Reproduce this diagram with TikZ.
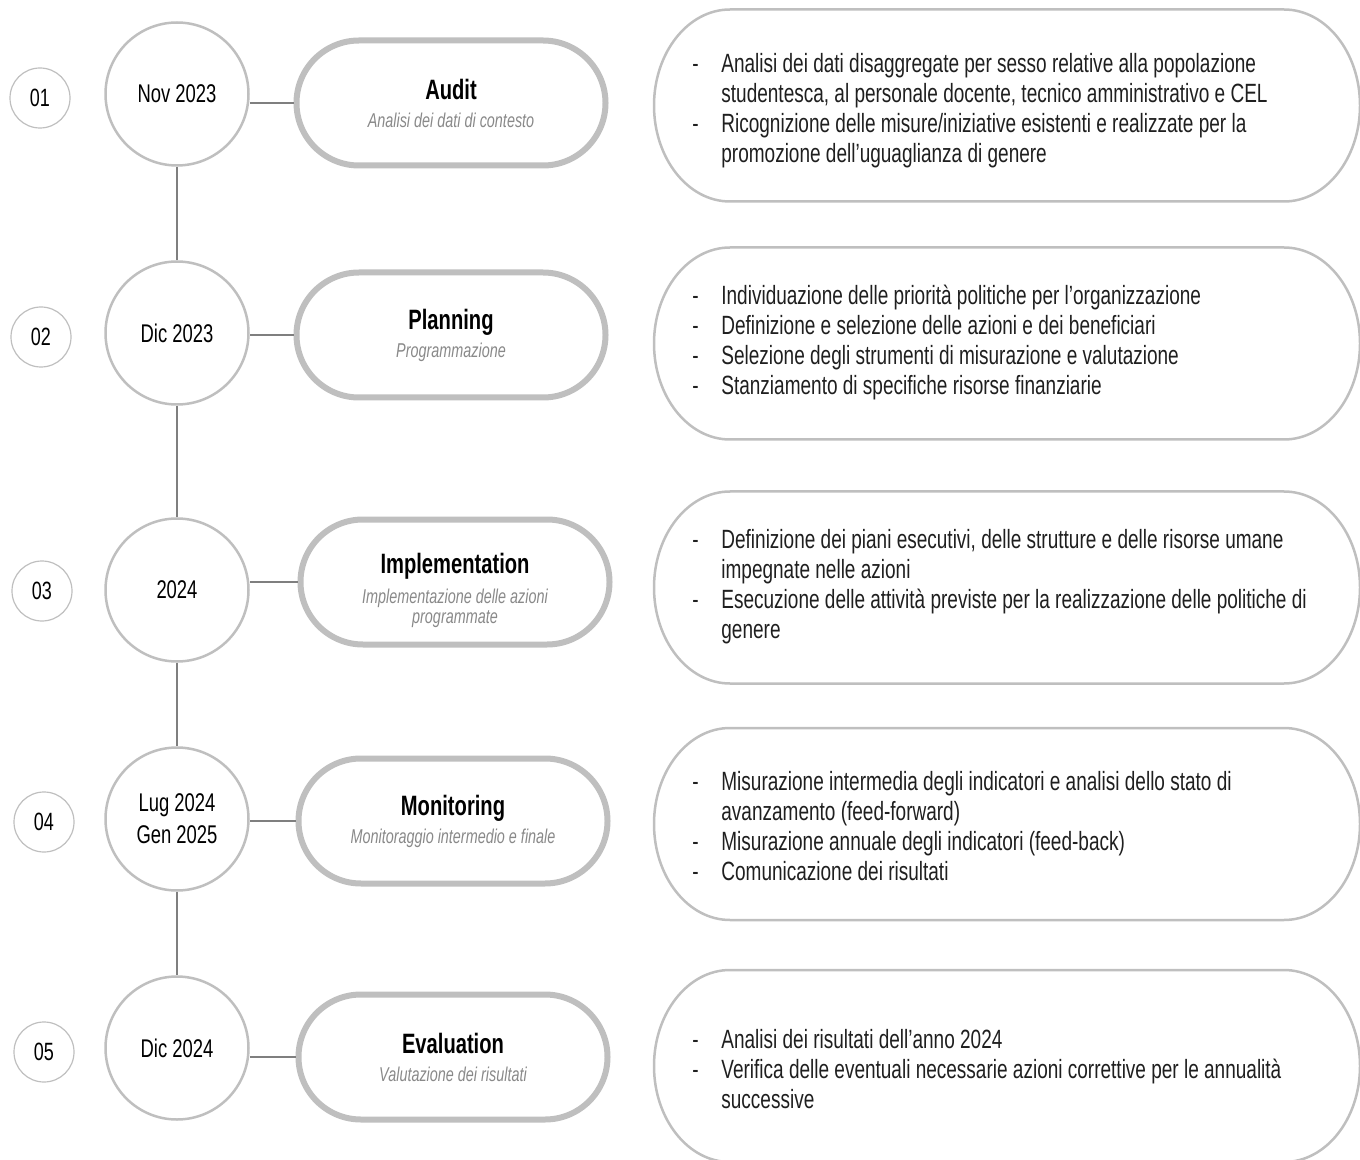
\documentclass[tikz,border=0pt]{standalone}
\usepackage{fontspec}
\setmainfont{Liberation Sans}[FakeStretch=0.72]
\usetikzlibrary{shapes.misc}

\definecolor{ringgray}{HTML}{BFBFBF}
\definecolor{linegray}{HTML}{7F7F7F}
\definecolor{subgray}{HTML}{898989}
\definecolor{bodytext}{HTML}{1F1F1F}

\newcommand{\itemdash}{\makebox[14.5pt][l]{-}}
\newcommand{\itemgap}{\hspace*{14.5pt}}
\newcommand{\phasetitle}[1]{{\fontsize{14}{16}\selectfont\bfseries #1}}

\begin{document}
\begin{tikzpicture}[x=0.5pt,y=-0.5pt,
  numc/.style={circle,draw=ringgray,line width=0.6pt,minimum size=30pt,inner sep=0pt,
    font=\fontsize{12.5}{14}\selectfont},
  datec/.style={circle,draw=ringgray,line width=1.25pt,minimum size=71.5pt,inner sep=0pt,
    align=center,font=\fontsize{12.8}{16}\selectfont},
  pill/.style={rounded rectangle,draw=ringgray,line width=3pt,minimum width=154.5pt,
    minimum height=62.5pt,inner sep=0pt,align=center,font=\fontsize{10}{14}\selectfont},
  conn/.style={draw=linegray,line width=1.25pt},
  bubble/.style={draw=ringgray,line width=1.25pt},
  bodytxt/.style={anchor=west,align=left,inner sep=0pt,text=bodytext,
    font=\fontsize{13.2}{15}\selectfont}]
  \useasboundingbox (0,0) rectangle (1360,1160);

  % step numbers
  \node[numc] (n1) at (40,98) {01};
  \node[numc] (n2) at (41,337) {02};
  \node[numc] (n3) at (42,591) {03};
  \node[numc] (n4) at (44,822) {04};
  \node[numc] (n5) at (44,1052) {05};

  % dates
  \node[datec] (d1) at (177,94) {Nov 2023};
  \node[datec] (d2) at (177,333) {Dic 2023};
  \node[datec] (d3) at (177,590) {2024};
  \node[datec] (d4) at (177,819) {Lug 2024\\Gen 2025};
  \node[datec] (d5) at (177,1048) {Dic 2024};

  % phases
  \node[pill] (p1) at (451,103) {\phasetitle{Audit}\\
    {\color{subgray}\itshape Analisi dei dati di contesto}};
  \node[pill] (p2) at (451,335) {\phasetitle{Planning}\\
    {\color{subgray}\itshape Programmazione}};
  \node[pill] (p3) at (455,582) {\rule{0pt}{19pt}\phasetitle{Implementation}\\[1pt]
    {\color{subgray}\itshape Implementazione delle azioni}\\[-4pt]
    {\color{subgray}\itshape programmate}};
  \node[pill] (p4) at (453,821) {\phasetitle{Monitoring}\\
    {\color{subgray}\itshape Monitoraggio intermedio e finale}};
  \node[pill] (p5) at (453,1057) {\phasetitle{Evaluation}\\
    {\color{subgray}\itshape Valutazione dei risultati}};

  % timeline
  \draw[conn] (d1) -- (d2);
  \draw[conn] (d2) -- (d3);
  \draw[conn] (d3) -- (d4);
  \draw[conn] (d4) -- (d5);
  \draw[conn] (p1.west) -- (p1.west -| d1.east);
  \draw[conn] (p2.west) -- (p2.west -| d2.east);
  \draw[conn] (p3.west) -- (p3.west -| d3.east);
  \draw[conn] (p4.west) -- (p4.west -| d4.east);
  \draw[conn] (p5.west) -- (p5.west -| d5.east);

  % activity bubbles
  \draw[bubble] (730,9.5) -- (1284,9.5)
    arc[start angle=90,end angle=-90,x radius=38pt,y radius=48pt] -- (730,201.5)
    arc[start angle=270,end angle=90,x radius=38pt,y radius=48pt] -- cycle;
  \draw[bubble] (730,247.5) -- (1284,247.5)
    arc[start angle=90,end angle=-90,x radius=38pt,y radius=48pt] -- (730,439.5)
    arc[start angle=270,end angle=90,x radius=38pt,y radius=48pt] -- cycle;
  \draw[bubble] (730,491.5) -- (1284,491.5)
    arc[start angle=90,end angle=-90,x radius=38pt,y radius=48pt] -- (730,683.5)
    arc[start angle=270,end angle=90,x radius=38pt,y radius=48pt] -- cycle;
  \draw[bubble] (730,728) -- (1284,728)
    arc[start angle=90,end angle=-90,x radius=38pt,y radius=48pt] -- (730,920)
    arc[start angle=270,end angle=90,x radius=38pt,y radius=48pt] -- cycle;
  \draw[bubble] (730,970) -- (1284,970)
    arc[start angle=90,end angle=-90,x radius=38pt,y radius=48pt] -- (730,1162)
    arc[start angle=270,end angle=90,x radius=38pt,y radius=48pt] -- cycle;

  \node[bodytxt] (t1) at (692,111) {%
    \itemdash Analisi dei dati disaggregate per sesso relative alla popolazione\\
    \itemgap studentesca, al personale docente, tecnico amministrativo e CEL\\
    \itemdash Ricognizione delle misure/iniziative esistenti e realizzate per la\\
    \itemgap promozione dell’uguaglianza di genere};
  \node[bodytxt] (t2) at (692,343) {%
    \itemdash Individuazione delle priorità politiche per l’organizzazione\\
    \itemdash Definizione e selezione delle azioni e dei beneficiari\\
    \itemdash Selezione degli strumenti di misurazione e valutazione\\
    \itemdash Stanziamento di specifiche risorse finanziarie};
  \node[bodytxt] (t3) at (692,587) {%
    \itemdash Definizione dei piani esecutivi, delle strutture e delle risorse umane\\
    \itemgap impegnate nelle azioni\\
    \itemdash Esecuzione delle attività previste per la realizzazione delle politiche di\\
    \itemgap genere};
  \node[bodytxt] (t4) at (692,826) {%
    \itemdash Misurazione intermedia degli indicatori e analisi dello stato di\\
    \itemgap avanzamento (feed-forward)\\
    \itemdash Misurazione annuale degli indicatori (feed-back)\\
    \itemdash Comunicazione dei risultati};
  \node[bodytxt] (t5) at (692,1069) {%
    \itemdash Analisi dei risultati dell’anno 2024\\
    \itemdash Verifica delle eventuali necessarie azioni correttive per le annualità\\
    \itemgap successive};
\end{tikzpicture}
\end{document}
